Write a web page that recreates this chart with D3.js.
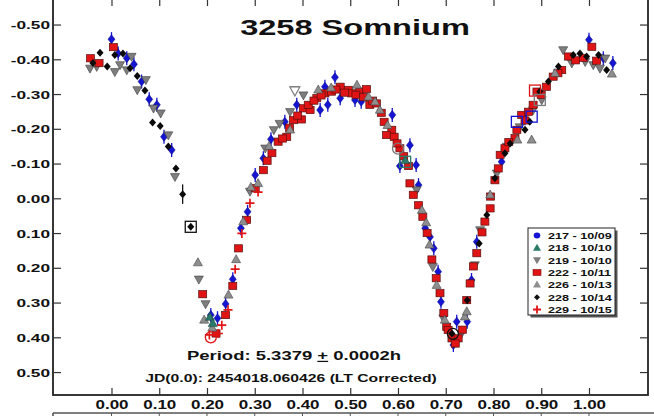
<!DOCTYPE html>
<html><head><meta charset="utf-8">
<script src="https://cdn.jsdelivr.net/npm/d3@7"></script>
<style>
body{margin:0;background:#fff}
svg{display:block}
text{font-family:"Liberation Sans",Arial,sans-serif;font-weight:bold;fill:#111}
</style>
</head><body>
<svg id="c" width="654" height="416"></svg>
<script>
// ---------- data ----------
const title = "3258 Somnium";
const periodText = ["Period: 5.3379 ", "+", " 0.0002h"];
const jdText = "JD(0.0): 2454018.060426 (LT Corrected)";
const xTickValues = [0,0.1,0.2,0.3,0.4,0.5,0.6,0.7,0.8,0.9,1.0];
const xTickLabels = ["0.00","0.10","0.20","0.30","0.40","0.50","0.60","0.70","0.80","0.90","1.00"];
const yTickValues = [-0.5,-0.4,-0.3,-0.2,-0.1,0,0.1,0.2,0.3,0.4,0.5];
const yTickLabels = ["-0.50","-0.40","-0.30","-0.20","-0.10","0.00","0.10","0.20","0.30","0.40","0.50"];
const legendLabels = ["217 - 10/09","218 - 10/10","219 - 10/10","222 - 10/11","226 - 10/13","228 - 10/14","229 - 10/15"];

// phase, magnitude
const s217 = [[0.000,-0.458],[0.014,-0.417],[0.032,-0.403],[0.047,-0.386],[0.063,-0.336],[0.079,-0.285],[0.095,-0.269],[0.110,-0.177],[0.126,-0.139],
 [0.208,0.336],[0.222,0.345],[0.239,0.304],[0.254,0.233],[0.271,0.086],[0.285,0.039],[0.301,-0.067],[0.318,-0.115],[0.334,-0.170],[0.363,-0.220],[0.388,-0.269],
 [0.437,-0.254],[0.453,-0.269],[0.447,-0.321],[0.468,-0.348],[0.479,-0.288],[0.510,-0.283],[0.523,-0.278],[0.588,-0.240],[0.604,-0.093],[0.625,-0.153],
 [0.638,-0.096],[0.643,-0.038],[0.657,0.086],[0.667,0.111],[0.675,0.144],[0.684,0.211],[0.690,0.298],[0.716,0.422],[0.723,0.355],[0.745,0.355],
 [0.754,0.235],[0.765,0.125],[0.817,-0.105],[0.866,-0.230],[1.000,-0.456],[1.030,-0.403],[1.050,-0.389]];
const s218 = [[0.206,0.342],[0.615,-0.109],[0.212,0.360]];
const s219 = [[-0.045,-0.374],[-0.031,-0.379],[0.007,-0.364],[0.018,-0.384],[0.032,-0.369],[0.042,-0.408],[0.054,-0.312],[0.072,-0.341],[0.088,-0.259],
 [0.103,-0.245],[0.119,-0.182],[0.133,-0.062],[0.183,0.233],[0.197,0.304],[0.322,-0.144],[0.340,-0.197],[0.374,-0.249],[0.384,-0.312],[0.402,-0.297],
 [0.639,-0.024],[0.673,0.197],[0.695,0.345],[0.733,0.389],[0.761,0.192],[0.772,0.091],[0.807,-0.072],[0.828,-0.149],[0.883,-0.254],[0.901,-0.283],
 [0.946,-0.427],[0.964,-0.389],[0.992,-0.393],[1.009,-0.384],[1.023,-0.374],[1.034,-0.403],[0.290,-0.020],[0.352,-0.215],[0.855,-0.205]];
const s222 = [[-0.044,-0.403],[-0.026,-0.389],[0.004,-0.435],[0.191,0.276],[0.219,0.389],[0.239,0.336],[0.254,0.252],[0.266,0.144],[0.283,0.062],
 [0.301,-0.029],[0.318,-0.081],[0.336,-0.130],[0.349,-0.163],[0.367,-0.177],[0.381,-0.225],[0.398,-0.227],[0.402,-0.259],[0.416,-0.254],[0.412,-0.269],
 [0.430,-0.288],[0.447,-0.302],[0.461,-0.307],[0.479,-0.321],[0.496,-0.312],[0.503,-0.302],[0.520,-0.307],[0.534,-0.314],[0.541,-0.269],[0.555,-0.273],
 [0.571,-0.220],[0.587,-0.197],[0.576,-0.182],[0.592,-0.177],[0.604,-0.144],[0.622,-0.093],[0.625,-0.043],[0.632,-0.010],[0.652,0.053],[0.671,0.176],
 [0.680,0.230],[0.688,0.273],[0.702,0.370],[0.705,0.379],[0.713,0.403],[0.726,0.403],[0.744,0.293],[0.751,0.245],[0.765,0.158],[0.782,0.067],
 [0.793,0.029],[0.794,-0.005],[0.810,-0.086],[0.814,-0.125],[0.824,-0.144],[0.845,-0.173],[0.849,-0.197],[0.859,-0.240],[0.873,-0.249],[0.883,-0.269],
 [0.891,-0.307],[0.911,-0.321],[0.925,-0.350],[0.943,-0.369],[0.957,-0.408],[1.006,-0.436],
 [0.326,-0.108],[0.358,-0.172],[0.373,-0.203],[0.390,-0.238],[0.424,-0.281],[0.439,-0.296],[0.470,-0.313],[0.488,-0.304],[0.512,-0.298],[0.528,-0.291],
 [0.547,-0.281],[0.565,-0.246],[0.598,-0.158],[0.612,-0.121],[0.643,0.020],[0.661,0.100],[0.696,0.330],[0.720,0.418],[0.735,0.378],[0.758,0.196],
 [0.776,0.098],[0.803,-0.052],[0.832,-0.162],[0.866,-0.224],[0.900,-0.298],[0.935,-0.360],[0.972,-0.397],[0.988,-0.404],[1.016,-0.396]];
const s226 = [[0.181,0.185],[0.194,0.350],[0.211,0.373],[0.245,0.278],[0.261,0.176],[0.276,0.067],[0.292,-0.032],[0.307,-0.043],[0.374,-0.197],
 [0.433,-0.312],[0.514,-0.326],[0.538,-0.292],[0.552,-0.278],[0.562,-0.254],[0.650,0.034],[0.659,0.070],[0.666,0.134],[0.681,0.250],[0.698,0.350],
 [0.740,0.341],[0.744,0.326],[0.793,-0.010],[0.850,-0.168],[0.880,-0.168],[0.929,-0.360],[1.048,-0.358],[0.330,-0.150],[0.460,-0.318],[0.578,-0.210]];
const s228 = [[-0.039,-0.389],[-0.024,-0.419],[-0.009,-0.379],[0.007,-0.412],[0.024,-0.417],[0.039,-0.374],[0.054,-0.352],[0.070,-0.310],[0.086,-0.218],
 [0.102,-0.208],[0.119,-0.149],[0.135,-0.086],[0.149,-0.012],[0.166,0.082],[0.713,0.389],[0.745,0.293],[0.770,0.130],[0.786,0.048],[0.803,-0.058],
 [0.824,-0.130],[0.835,-0.158],[0.866,-0.197],[0.876,-0.220],[0.897,-0.307],[0.915,-0.336],[0.936,-0.379],[0.967,-0.412],[0.981,-0.417],[0.995,-0.408],
 [1.020,-0.412],[1.037,-0.369]];
const s229 = [[0.205,0.393],[0.224,0.389],[0.231,0.365],[0.244,0.321],[0.259,0.204],[0.273,0.101],[0.290,0.014],[0.307,-0.018]];
// highlighted (open) markers: phase, magnitude, shape, colour key
const openMarks = [[0.166,0.082,"square","k"],[0.208,0.400,"circle","r"],[0.615,-0.105,"square","t"],[0.600,-0.143,"circle","g"],
 [0.887,-0.310,"square","r"],[0.897,-0.283,"square","g"],[0.880,-0.235,"square","b"],[0.849,-0.220,"square","b"],[0.715,0.390,"circle","k"],[0.384,-0.310,"tri","g"]];

// ---------- layout ----------
const svg = d3.select("#c");
const L=53, R=648, T=-1, B=395;
const x = d3.scaleLinear().domain([-0.1225,1.1236]).range([L,R]);
const y = d3.scaleLinear().domain([-0.5735,0.566]).range([T,B]);

const col = {b:"#1414d2", r:"#e01414", g:"#7a7a7a", k:"#111", t:"#2a7a6a"};

function stretchText(sel, sx){
  sel.each(function(){
    const t=d3.select(this);
    const tx=+t.attr("x")||0, ty=+t.attr("y")||0;
    t.attr("x",0).attr("y",0).attr("transform",`translate(${tx},${ty}) scale(${sx},1)`);
  });
}

// frame
svg.append("rect").attr("x",L).attr("y",T).attr("width",R-L).attr("height",B-T)
  .attr("fill","none").attr("stroke","#222").attr("stroke-width",1.8);

// axes
const ax = svg.append("g").attr("class","axes");
const xb = ax.append("g").attr("transform",`translate(0,${B})`)
  .call(d3.axisBottom(x).tickValues(xTickValues).tickFormat((d,i)=>xTickLabels[i]).tickSize(-7).tickPadding(14));
const xt = ax.append("g").attr("transform",`translate(0,${T})`)
  .call(d3.axisTop(x).tickValues(xTickValues).tickFormat("").tickSize(-7));
const yl = ax.append("g").attr("transform",`translate(${L},0)`)
  .call(d3.axisLeft(y).tickValues(yTickValues).tickFormat((d,i)=>yTickLabels[i]).tickSize(-8).tickPadding(4));
const yr = ax.append("g").attr("transform",`translate(${R},0)`)
  .call(d3.axisRight(y).tickValues(yTickValues).tickFormat("").tickSize(-8));
ax.selectAll(".domain").remove();
ax.selectAll(".tick line").attr("stroke","#333").attr("stroke-width",1.2);
xb.selectAll("text").attr("dy",null).attr("y",14).style("font-size","12.5px").attr("fill","#111");
stretchText(xb.selectAll("text"),1.36);
yl.selectAll("text").attr("dy","0.36em").attr("x",-3).style("font-size","11.5px").attr("fill","#111");
stretchText(yl.selectAll("text"),1.5);

// lower (cut-off) frame
const lowY = 413;
svg.append("line").attr("x1",L).attr("x2",654).attr("y1",lowY).attr("y2",lowY).attr("stroke","#555").attr("stroke-width",1.6);
svg.append("line").attr("x1",L).attr("x2",L).attr("y1",lowY).attr("y2",416).attr("stroke","#555").attr("stroke-width",1.6);
svg.append("g").selectAll("line").data(xTickValues).join("line")
  .attr("x1",d=>x(d)).attr("x2",d=>x(d)).attr("y1",lowY).attr("y2",416).attr("stroke","#555").attr("stroke-width",1);

// ---------- markers ----------
function diamond(w,h){return `M0,${-h/2}L${w/2},0L0,${h/2}L${-w/2},0Z`;}
function triUp(w,h){return `M0,${-h*0.6}L${w/2},${h*0.4}L${-w/2},${h*0.4}Z`;}
function triDown(w,h){return `M0,${h*0.6}L${w/2},${-h*0.4}L${-w/2},${-h*0.4}Z`;}

const plot = svg.append("g");
function drawSeries(data, kind){
  const g = plot.append("g");
  const pts = g.selectAll("g").data(data).join("g")
    .attr("transform",d=>`translate(${x(d[0])},${y(d[1])})`);
  if(kind==="217"){
    pts.append("line").attr("y1",-7).attr("y2",7).attr("stroke",col.b).attr("stroke-width",1.3);
    pts.append("path").attr("d",diamond(7,9)).attr("fill",col.b).attr("stroke","#0a0a80").attr("stroke-width",0.5);
  } else if(kind==="218"){
    pts.append("path").attr("d",triUp(9,8)).attr("fill",col.t).attr("stroke","#1c4a40").attr("stroke-width",0.6);
  } else if(kind==="219"){
    pts.append("path").attr("d",triDown(9,8)).attr("fill","#7e7e7e").attr("stroke","#3c3c3c").attr("stroke-width",0.6);
  } else if(kind==="222"){
    pts.append("rect").attr("x",-4).attr("y",-3.6).attr("width",8).attr("height",7.2)
      .attr("fill",col.r).attr("stroke","#5a1010").attr("stroke-width",0.7);
  } else if(kind==="226"){
    pts.append("path").attr("d",triUp(9,8)).attr("fill","#8e8e8e").attr("stroke","#444").attr("stroke-width",0.6);
  } else if(kind==="228"){
    pts.append("path").attr("d",diamond(7,8)).attr("fill","#0a0a0a");
  } else if(kind==="229"){
    pts.append("path").attr("d","M-4.5,0H4.5M0,-4.5V4.5").attr("stroke",col.r).attr("stroke-width",1.7);
  }
}
drawSeries(s217,"217");
drawSeries(s219,"219");
drawSeries(s222,"222");
drawSeries(s226,"226");
drawSeries(s218,"218");
drawSeries(s229,"229");
drawSeries(s228,"228");
// black error bar on the lone descending point
plot.append("line").attr("x1",x(0.149)).attr("x2",x(0.149)).attr("y1",y(-0.040)).attr("y2",y(0.016)).attr("stroke","#111").attr("stroke-width",1.3);

// open markers
const om = plot.append("g").selectAll("g").data(openMarks).join("g")
  .attr("transform",d=>`translate(${x(d[0])},${y(d[1])})`);
om.each(function(d){
  const g=d3.select(this), c=col[d[3]];
  if(d[2]==="square") g.append("rect").attr("x",-5.5).attr("y",-5.5).attr("width",11).attr("height",11).attr("fill","none").attr("stroke",c).attr("stroke-width",1.3);
  else if(d[2]==="circle") g.append("circle").attr("r",5.5).attr("fill","none").attr("stroke",c).attr("stroke-width",1.3);
  else g.append("path").attr("d",triDown(10,9)).attr("fill","#fff").attr("stroke",c).attr("stroke-width",1.2);
});

// ---------- texts ----------
const tt = svg.append("text").attr("x",355).attr("y",35).attr("text-anchor","middle")
  .style("font-size","22px").attr("fill","#000").text(title);
stretchText(tt,1.48);

const pt = svg.append("text").attr("x",294).attr("y",360).attr("text-anchor","middle").style("font-size","12.5px");
pt.append("tspan").text(periodText[0]);
pt.append("tspan").attr("text-decoration","underline").style("text-decoration","underline").text(periodText[1]);
pt.append("tspan").text(periodText[2]);
stretchText(pt,1.48);

const jt = svg.append("text").attr("x",291).attr("y",382).attr("text-anchor","middle").style("font-size","11px").text(jdText);
stretchText(jt,1.43);

// ---------- legend ----------
const lg = svg.append("g").attr("transform","translate(528,228)");
lg.append("rect").attr("x",2.5).attr("y",2.5).attr("width",87).attr("height",87).attr("fill","#555");
lg.append("rect").attr("x",0).attr("y",0).attr("width",87).attr("height",87).attr("fill","#fff").attr("stroke","#222").attr("stroke-width",1);
const kinds=["217","218","219","222","226","228","229"];
kinds.forEach((k,i)=>{
  const cy = 7.5 + i*12.33, cx = 9;
  const s = lg.append("g").attr("transform",`translate(${cx},${cy})`);
  if(k==="217") s.append("ellipse").attr("rx",3.3).attr("ry",3).attr("fill",col.b);
  if(k==="218") s.append("path").attr("d",triUp(8,7)).attr("fill",col.t);
  if(k==="219") s.append("path").attr("d",triDown(8,7)).attr("fill","#7e7e7e");
  if(k==="222") s.append("rect").attr("x",-4).attr("y",-3).attr("width",8).attr("height",6).attr("fill",col.r).attr("stroke","#7a1010").attr("stroke-width",0.6);
  if(k==="226") s.append("path").attr("d",triUp(8,7)).attr("fill","#8e8e8e");
  if(k==="228") s.append("path").attr("d",diamond(6,6)).attr("fill","#111");
  if(k==="229") s.append("path").attr("d","M-4,0H4M0,-4V4").attr("stroke",col.r).attr("stroke-width",1.8);
  const t = lg.append("text").attr("x",20).attr("y",cy+3.5).style("font-size","9.5px").attr("fill","#222").text(legendLabels[i]);
  stretchText(t,1.33);
});
</script>
</body></html>
